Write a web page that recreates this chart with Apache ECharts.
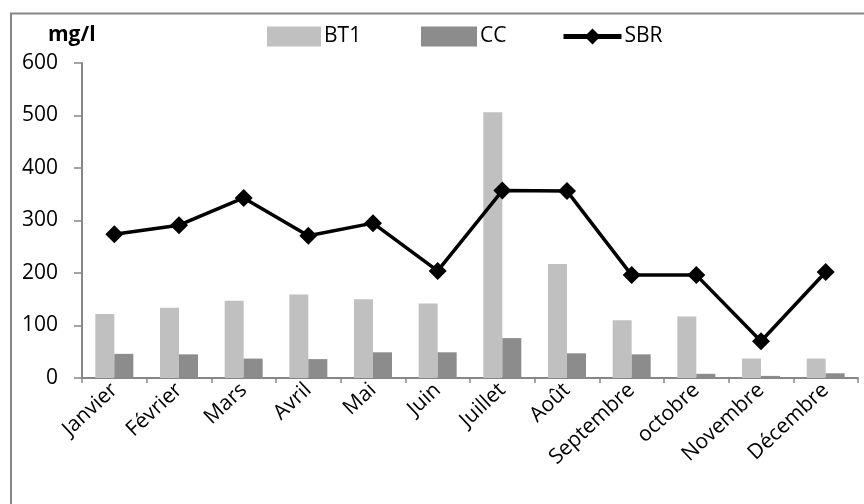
<!DOCTYPE html>
<html>
<head>
<meta charset="utf-8">
<script src="https://cdn.jsdelivr.net/npm/echarts@6/dist/echarts.min.js"></script>
<style>html,body{margin:0;padding:0;background:#fff;}#c{width:864px;height:504px;}</style>
</head>
<body>
<div id="c"></div>
<script>
const months = ['Janvier','Février','Mars','Avril','Mai','Juin','Juillet','Août','Septembre','octobre','Novembre','Décembre'];
const bt1 = [122, 134, 147, 159, 150, 142, 506, 217, 110, 117, 37, 37];
const cc = [46, 45, 37, 36, 49, 49, 76, 47, 45, 8, 4, 9];
const sbr = [274, 291, 343, 271, 295, 204, 357, 356, 196, 196, 70, 202];
const yTicks = {min: 0, max: 600, interval: 100};

const FONT = '"Open Sans", sans-serif';
const AX = '#868686';
const legendText = {fontSize: 21, color: '#000', fontFamily: FONT, padding: [0, 0, 0, -2]};
const chart = echarts.init(document.getElementById('c'));
chart.setOption({
  animation: false,
  backgroundColor: '#fff',
  textStyle: {fontFamily: FONT},
  graphic: [
    {type: 'rect', shape: {x: 11, y: 13.5, width: 900, height: 600}, style: {fill: 'none', stroke: AX, lineWidth: 2}, silent: true},
    {type: 'text', left: 48, top: 25, style: {text: 'mg/l', font: 'bold 21px ' + FONT, fill: '#000'}}
  ],
  legend: [
    {data: [{name: 'BT1', icon: 'rect'}], left: 262, top: 21, itemWidth: 54, itemHeight: 20, textStyle: legendText},
    {data: [{name: 'CC', icon: 'rect'}], left: 416, top: 21, itemWidth: 56, itemHeight: 20, textStyle: legendText},
    {data: ['SBR'], left: 556, top: 21, itemWidth: 58, itemHeight: 20, textStyle: legendText,
     lineStyle: {width: 5, color: '#000'}}
  ],
  grid: {left: 82, top: 63, right: 6, bottom: 126, containLabel: false},
  xAxis: {
    type: 'category',
    data: months,
    boundaryGap: true,
    axisLine: {lineStyle: {color: AX, width: 2}},
    axisTick: {show: true, length: 5, lineStyle: {color: AX, width: 1.5}},
    axisLabel: {rotate: 43, interval: 0, margin: 9, fontSize: 21, color: '#000', fontFamily: FONT}
  },
  yAxis: {
    type: 'value',
    min: yTicks.min, max: yTicks.max, interval: yTicks.interval,
    axisLine: {show: true, lineStyle: {color: AX, width: 2}},
    axisTick: {show: true, length: 8, lineStyle: {color: AX, width: 1.5}},
    splitLine: {show: false},
    axisLabel: {margin: 24, fontSize: 21, color: '#000', fontFamily: FONT}
  },
  series: [
    {name: 'BT1', type: 'bar', data: bt1, barWidth: 19, barGap: '0%', itemStyle: {color: '#c0c0c0'}},
    {name: 'CC', type: 'bar', data: cc, barWidth: 19, barGap: '0%', itemStyle: {color: '#8c8c8c'}},
    {name: 'SBR', type: 'line', data: sbr, symbol: 'diamond', symbolSize: 18, z: 5,
     lineStyle: {color: '#000', width: 3.5}, itemStyle: {color: '#000'}}
  ]
});
</script>
</body>
</html>
